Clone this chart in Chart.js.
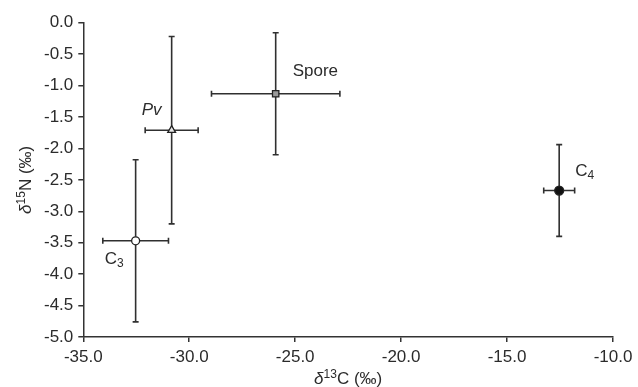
<!DOCTYPE html>
<html>
<head>
<meta charset="utf-8">
<title>d13C vs d15N</title>
<script src="https://cdn.jsdelivr.net/npm/chart.js@4/dist/chart.umd.min.js"></script>
<style>
  html, body { margin: 0; padding: 0; background: #fff; }
  canvas { display: block; }
</style>
</head>
<body>
<canvas id="myChart" width="638" height="387"></canvas>
<script>
// data
const groups = ["C3", "Pv", "Spore", "C4"];
const d13C = [-32.53, -30.83, -25.92, -12.54];
const d15N = [-3.47, -1.71, -1.13, -2.67];
const d13CErr = [1.55, 1.25, 3.03, 0.73];
const d15NErr = [1.29, 1.49, 0.97, 0.73];
const xTicks = [-35, -30, -25, -20, -15, -10];
const yTicks = [0, -0.5, -1, -1.5, -2, -2.5, -3, -3.5, -4, -4.5, -5];

const FONT = "'Liberation Sans', Arial, sans-serif";
const INK = "#2b2b2b";

// where each group name sits relative to its point (px)
const labelOffsets = {
  C3: [-31, 17],
  Pv: [-30, -21],
  Spore: [17, -24],
  C4: [16, -21],
};

// draws a run of text pieces (normal / italic / sup / sub) starting at x
function drawRuns(ctx, runs, x, y, align) {
  const size = 17;
  const pieces = runs.map(function (r) {
    const small = r.sup || r.sub;
    const fs = small ? 12 : size;
    const f = (r.italic ? "italic " : "") + fs + "px " + FONT;
    ctx.font = f;
    return { text: r.text, font: f, w: ctx.measureText(r.text).width, dy: r.sup ? -6 : r.sub ? 3 : 0 };
  });
  const total = pieces.reduce(function (a, p) { return a + p.w; }, 0);
  let cx = align === "center" ? x - total / 2 : x;
  ctx.textBaseline = "alphabetic";
  ctx.textAlign = "left";
  pieces.forEach(function (p) {
    ctx.font = p.font;
    ctx.fillText(p.text, cx, y + p.dy);
    cx += p.w;
  });
}

const labelRuns = {
  C3: [{ text: "C" }, { text: "3", sub: true }],
  Pv: [{ text: "Pv", italic: true }],
  Spore: [{ text: "Spore" }],
  C4: [{ text: "C" }, { text: "4", sub: true }],
};

const errorBars = {
  id: "errorBars",
  beforeDatasetsDraw(chart) {
    const ctx = chart.ctx;
    const xs = chart.scales.x;
    const ys = chart.scales.y;
    const cap = 3;
    ctx.save();
    ctx.strokeStyle = "#303030";
    ctx.lineWidth = 1.6;
    groups.forEach(function (g, i) {
      const x0 = xs.getPixelForValue(d13C[i] - d13CErr[i]);
      const x1 = xs.getPixelForValue(d13C[i] + d13CErr[i]);
      const y0 = ys.getPixelForValue(d15N[i] - d15NErr[i]);
      const y1 = ys.getPixelForValue(d15N[i] + d15NErr[i]);
      const px = xs.getPixelForValue(d13C[i]);
      const py = ys.getPixelForValue(d15N[i]);
      ctx.beginPath();
      ctx.moveTo(x0, py); ctx.lineTo(x1, py);
      ctx.moveTo(x0, py - cap); ctx.lineTo(x0, py + cap);
      ctx.moveTo(x1, py - cap); ctx.lineTo(x1, py + cap);
      ctx.moveTo(px, y0); ctx.lineTo(px, y1);
      ctx.moveTo(px - cap, y0); ctx.lineTo(px + cap, y0);
      ctx.moveTo(px - cap, y1); ctx.lineTo(px + cap, y1);
      ctx.stroke();
    });
    ctx.restore();
  },
  afterDraw(chart) {
    const ctx = chart.ctx;
    const xs = chart.scales.x;
    const ys = chart.scales.y;
    const area = chart.chartArea;
    ctx.save();
    ctx.fillStyle = INK;
    // point names
    groups.forEach(function (g, i) {
      const px = xs.getPixelForValue(d13C[i]);
      const py = ys.getPixelForValue(d15N[i]);
      const off = labelOffsets[g];
      drawRuns(ctx, labelRuns[g], px + off[0], py + off[1] + 6, "left");
    });
    // axis titles
    drawRuns(ctx, [
      { text: "δ", italic: true }, { text: "13", sup: true }, { text: "C (‰)" },
    ], (area.left + area.right) / 2, 384, "center");
    ctx.translate(31, (area.top + area.bottom) / 2);
    ctx.rotate(-Math.PI / 2);
    drawRuns(ctx, [
      { text: "δ", italic: true }, { text: "15", sup: true }, { text: "N (‰)" },
    ], 0, 0, "center");
    ctx.restore();
  },
};

const axisStyle = {
  border: { display: true, color: "#333", width: 1.5 },
  grid: { display: true, drawOnChartArea: false, drawTicks: true, tickLength: 5, color: "#333", lineWidth: 1.5 },
};

const ctx = document.getElementById("myChart").getContext("2d");

const myChart = new Chart(ctx, {
  type: "scatter",
  data: {
    datasets: [
      {
        label: "groups",
        data: groups.map(function (g, i) { return { x: d13C[i], y: d15N[i] }; }),
        pointStyle: ["circle", "triangle", "rect", "circle"],
        pointRadius: [4, 4.5, 4.5, 4.5],
        backgroundColor: ["#ffffff", "#e6e6e6", "#9a9a9a", "#111111"],
        borderColor: "#222",
        borderWidth: 1.3,
      },
    ],
  },
  options: {
    responsive: false,
    animation: false,
    layout: { padding: { left: 0, right: 25, top: 22.7, bottom: 0 } },
    plugins: {
      legend: { display: false },
      tooltip: { enabled: false },
    },
    scales: {
      x: Object.assign({
        type: "linear",
        min: xTicks[0],
        max: xTicks[xTicks.length - 1],
        afterBuildTicks(scale) { scale.ticks = xTicks.map(function (v) { return { value: v }; }); },
        afterFit(scale) { scale.height = 50; },
        ticks: {
          color: INK,
          font: { family: FONT, size: 17 },
          padding: 5,
          maxRotation: 0,
          callback: function (v) { return v.toFixed(1); },
        },
        title: { display: false },
      }, axisStyle),
      y: Object.assign({
        type: "linear",
        min: yTicks[yTicks.length - 1],
        max: yTicks[0],
        afterBuildTicks(scale) { scale.ticks = yTicks.map(function (v) { return { value: v }; }); },
        afterFit(scale) { scale.width = 83.3; },
        ticks: {
          color: INK,
          font: { family: FONT, size: 17 },
          padding: 5,
          callback: function (v) { return v.toFixed(1); },
        },
        title: { display: false },
      }, axisStyle),
    },
  },
  plugins: [errorBars],
});
</script>
</body>
</html>
